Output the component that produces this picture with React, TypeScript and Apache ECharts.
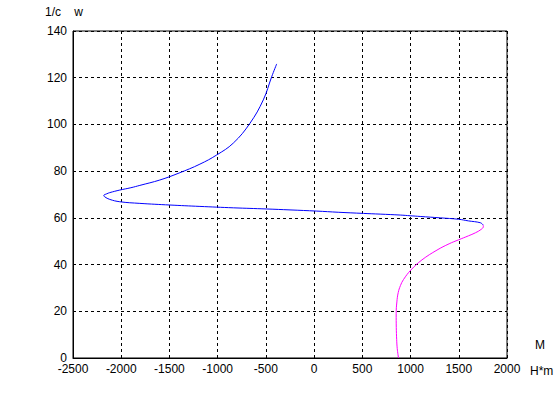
import React, { useEffect, useRef } from "react";
import * as echarts from "echarts";

// Lower branch (magenta): [M (H*m), 1/c (w)]
const lowerBranch: number[][] = [
  [875, 0], [862, 4], [856, 8], [852, 13], [851, 19], [858, 24], [872, 28],
  [895, 31], [927, 33.6], [1004, 37.7], [1118, 42], [1274, 46.2], [1400, 48.9],
  [1498, 50.6], [1600, 52.3], [1672, 53.6], [1730, 55], [1755, 56.3], [1752, 57],
];

// Upper branch (blue)
const upperBranch: number[][] = [
  [1752, 57], [1724, 57.9], [1600, 58.7], [1498, 59.4], [1308, 60], [1100, 60.6],
  [997, 60.9], [893, 61.2], [685, 61.6], [512, 61.9], [250, 62.4], [28, 62.9],
  [-250, 63.4], [-492, 63.8], [-838, 64.3], [-1184, 64.9], [-1496, 65.5],
  [-1807, 66.2], [-2015, 66.9], [-2119, 67.9], [-2171, 69], [-2181, 69.6],
  [-2150, 70.3], [-2119, 70.8], [-2015, 71.9], [-1900, 72.9], [-1807, 73.9],
  [-1600, 76.2], [-1400, 79.2], [-1184, 83], [-1011, 86.9], [-838, 92],
  [-665, 100.5], [-527, 110.5], [-440, 120.4], [-388, 125.9],
];

const xTicks = { min: -2500, max: 2000, interval: 500 };
const yTicks = { min: 0, max: 140, interval: 20 };

const yAxisTitle = "1/c    w";
const xAxisTitleTop = "M";
const xAxisTitleBottom = "H*m";

export default function App() {
  const ref = useRef<HTMLDivElement>(null);
  useEffect(() => {
    if (!ref.current) return;
    const chart = echarts.init(ref.current, undefined, { renderer: "svg" });
    const font = "Arial, 'Liberation Sans', sans-serif";
    const splitLine = {
      show: true,
      lineStyle: { color: "#000", width: 1, type: [3, 3] as number[] },
    };
    chart.setOption({
      animation: false,
      backgroundColor: "#fff",
      grid: {
        left: 73,
        right: 53,
        top: 31,
        bottom: 45,
        show: true,
        borderColor: "#000",
        borderWidth: 1,
        backgroundColor: "transparent",
      },
      xAxis: {
        type: "value",
        min: xTicks.min,
        max: xTicks.max,
        interval: xTicks.interval,
        axisLine: { show: true, onZero: false, lineStyle: { color: "#000" } },
        axisTick: { show: false },
        axisLabel: {
          color: "#000",
          fontSize: 12,
          fontFamily: font,
          margin: 5,
          showMinLabel: true,
          showMaxLabel: true,
          formatter: (v: number) => String(v),
        },
        splitLine,
      },
      yAxis: {
        type: "value",
        min: yTicks.min,
        max: yTicks.max,
        interval: yTicks.interval,
        axisLine: { show: true, onZero: false, lineStyle: { color: "#000" } },
        axisTick: { show: false },
        axisLabel: {
          color: "#000",
          fontSize: 12,
          fontFamily: font,
          margin: 6,
          formatter: (v: number) => String(v),
        },
        splitLine,
      },
      graphic: [
        {
          type: "text",
          left: 45,
          top: 6,
          style: { text: yAxisTitle, fill: "#000", font: `12px ${font}` },
        },
        {
          type: "text",
          left: 535,
          top: 339,
          style: { text: xAxisTitleTop, fill: "#000", font: `12px ${font}` },
        },
        {
          type: "text",
          left: 530,
          top: 365,
          style: { text: xAxisTitleBottom, fill: "#000", font: `12px ${font}` },
        },
      ],
      series: [
        {
          type: "line",
          data: lowerBranch,
          showSymbol: false,
          symbol: "none",
          smooth: 0.4,
          lineStyle: { color: "#ff00ff", width: 1 },
        },
        {
          type: "line",
          data: upperBranch,
          showSymbol: false,
          symbol: "none",
          smooth: 0.4,
          lineStyle: { color: "#0000ff", width: 1 },
        },
      ],
    });
    return () => chart.dispose();
  }, []);
  return (
    <div
      ref={ref}
      style={{ position: "absolute", left: 0, top: 0, width: 560, height: 403 }}
    />
  );
}
